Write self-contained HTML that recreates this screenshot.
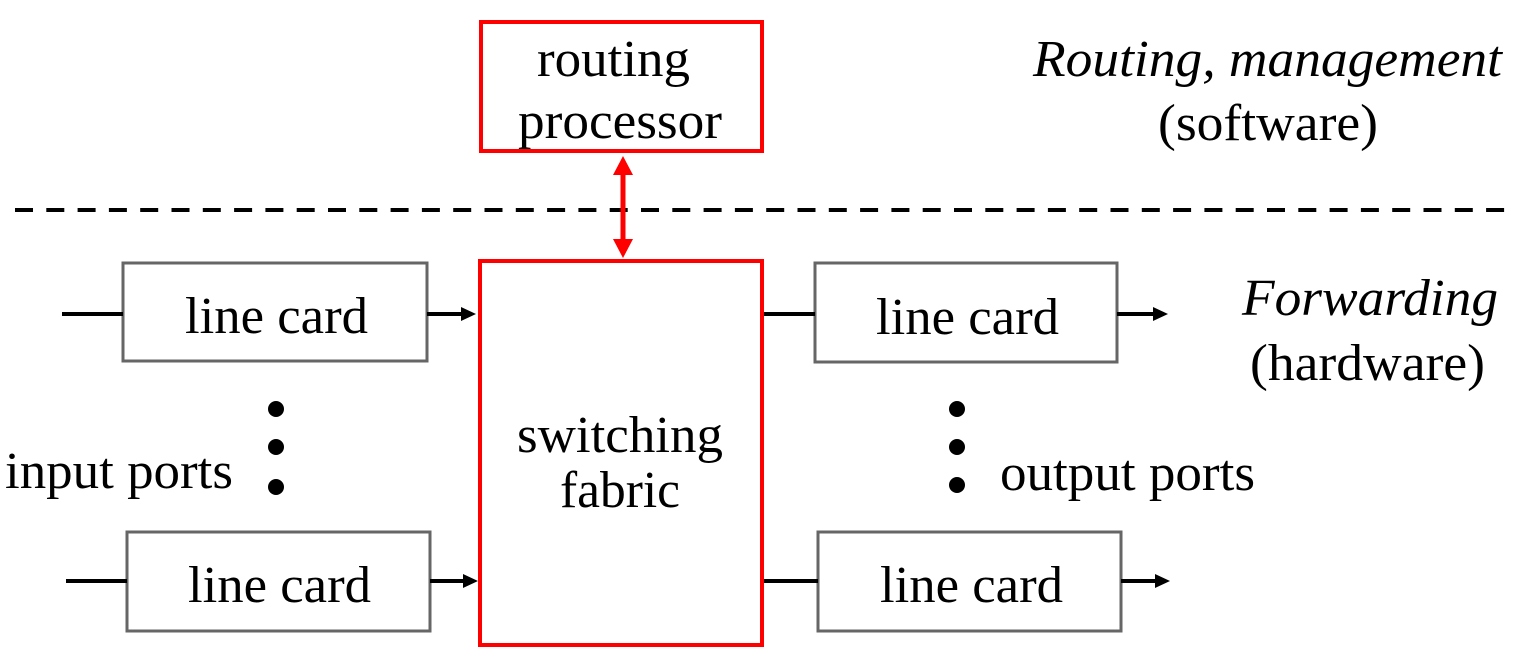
<!DOCTYPE html>
<html><head><style>body{margin:0;background:#fff}svg{display:block}</style></head><body>
<svg width="1518" height="655" xmlns="http://www.w3.org/2000/svg" font-family="Liberation Serif, serif" font-size="52">
<rect x="481" y="22" width="281" height="129" fill="none" stroke="#f00" stroke-width="4"/>
<text x="537" y="76" textLength="153" lengthAdjust="spacingAndGlyphs">routing</text>
<text x="518" y="138" textLength="204" lengthAdjust="spacingAndGlyphs">processor</text>
<text x="1033" y="76" font-style="italic" textLength="469" lengthAdjust="spacingAndGlyphs">Routing, management</text>
<text x="1158" y="140" textLength="220" lengthAdjust="spacingAndGlyphs">(software)</text>
<line x1="15" y1="210" x2="1512" y2="210" stroke="#000" stroke-width="4" stroke-dasharray="18,13.3"/>
<line x1="623" y1="172" x2="623" y2="242" stroke="#f00" stroke-width="5"/>
<polygon points="623,156 613,175 633,175" fill="#f00"/>
<polygon points="623,258 613,239 633,239" fill="#f00"/>
<rect x="480" y="261" width="282" height="384" fill="none" stroke="#f00" stroke-width="4"/>
<text x="517" y="452" textLength="206" lengthAdjust="spacingAndGlyphs">switching</text>
<text x="560" y="507" textLength="120" lengthAdjust="spacingAndGlyphs">fabric</text>
<g fill="none" stroke="#666" stroke-width="3">
<rect x="123" y="263" width="304" height="98"/>
<rect x="127" y="532" width="303" height="99"/>
<rect x="815" y="263" width="302" height="99"/>
<rect x="818" y="532" width="303" height="99"/>
</g>
<text x="185" y="333" textLength="183" lengthAdjust="spacingAndGlyphs">line card</text>
<text x="188" y="602" textLength="183" lengthAdjust="spacingAndGlyphs">line card</text>
<text x="876" y="334" textLength="183" lengthAdjust="spacingAndGlyphs">line card</text>
<text x="880" y="602" textLength="183" lengthAdjust="spacingAndGlyphs">line card</text>
<g stroke="#000" stroke-width="4">
<line x1="62" y1="314" x2="123" y2="314"/>
<line x1="427" y1="314" x2="464" y2="314"/>
<line x1="66" y1="581" x2="127" y2="581"/>
<line x1="430" y1="581" x2="466" y2="581"/>
<line x1="764" y1="314" x2="815" y2="314"/>
<line x1="1117" y1="314" x2="1156" y2="314"/>
<line x1="764" y1="581" x2="818" y2="581"/>
<line x1="1121" y1="581" x2="1158" y2="581"/>
</g>
<g fill="#000">
<polygon points="476,314 461,307 461,321"/>
<polygon points="478,581 463,574 463,588"/>
<polygon points="1168,314 1153,307 1153,321"/>
<polygon points="1170,581 1155,574 1155,588"/>
<circle cx="276" cy="409" r="8"/><circle cx="276" cy="447" r="8"/><circle cx="276" cy="487" r="8"/>
<circle cx="957" cy="409" r="8"/><circle cx="957" cy="447" r="8"/><circle cx="957" cy="485" r="8"/>
</g>
<text x="5" y="488" textLength="228" lengthAdjust="spacingAndGlyphs">input ports</text>
<text x="1000" y="490" textLength="255" lengthAdjust="spacingAndGlyphs">output ports</text>
<text x="1242" y="315" font-style="italic" textLength="256" lengthAdjust="spacingAndGlyphs">Forwarding</text>
<text x="1250" y="380" textLength="235" lengthAdjust="spacingAndGlyphs">(hardware)</text>
</svg>
</body></html>
